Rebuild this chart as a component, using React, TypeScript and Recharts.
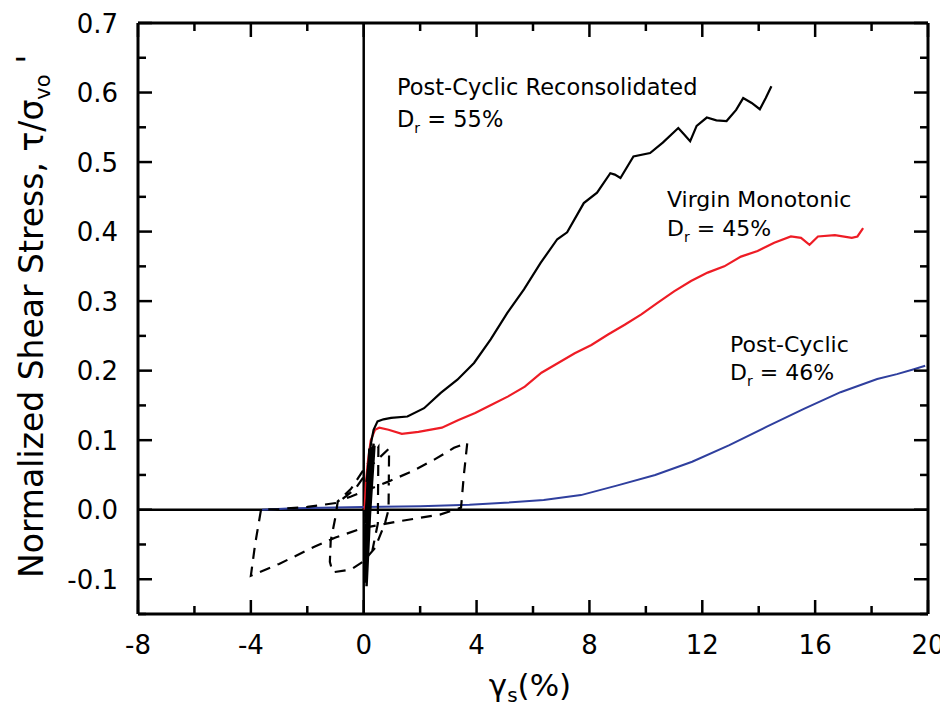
import React from 'react';
import { LineChart, Line, XAxis, YAxis, ReferenceLine } from 'recharts';

// ---- axis ticks ----
const xMajorTicks = [-8, -4, 0, 4, 8, 12, 16, 20];
const xAllTicks = [-8, -6, -4, -2, 0, 2, 4, 6, 8, 10, 12, 14, 16, 18, 20];
const yMajorTicks = [-0.1, 0, 0.1, 0.2, 0.3, 0.4, 0.5, 0.6, 0.7];
const yAllTicks = [-0.15, -0.1, -0.05, 0, 0.05, 0.1, 0.15, 0.2, 0.25, 0.3, 0.35, 0.4, 0.45, 0.5, 0.55, 0.6, 0.65, 0.7];

// ---- Post-Cyclic Reconsolidated, Dr = 55% (black) ----
const reconStrain = [0.1, 0.2, 0.26, 0.35, 0.49, 0.7, 0.97, 1.55, 2.14, 2.73, 3.32, 3.91, 4.5, 5.09, 5.68, 6.27, 6.86, 7.21, 7.8, 8.27, 8.74, 8.9, 9.1, 9.56, 10.15, 10.6, 11.15, 11.35, 11.57, 11.8, 12.16, 12.5, 12.86, 13.2, 13.45, 13.75, 14.04, 14.25, 14.45];
const reconStress = [0.04, 0.075, 0.096, 0.115, 0.127, 0.13, 0.132, 0.134, 0.146, 0.168, 0.187, 0.211, 0.245, 0.283, 0.317, 0.355, 0.389, 0.399, 0.441, 0.456, 0.484, 0.482, 0.477, 0.508, 0.513, 0.528, 0.549, 0.54, 0.53, 0.552, 0.564, 0.56, 0.559, 0.575, 0.592, 0.585, 0.576, 0.592, 0.609];

// ---- cyclic loading near origin (black, solid) ----
const cyclicStrain = [0.05, 0.2, 0.02, 0.25, 0.06, 0.3, 0.08, 0.22, 0.03, 0.28, 0.1, 0.32, 0.05, 0.18, 0.12, 0.35, 0.06, 0.3, 0.1, 0.26, 0.04, 0.2, 0.14, 0.38, 0.08, 0.24, 0.02, 0.16, 0.1, 0.3, 0.06, 0.22, 0.12];
const cyclicStress = [-0.105, 0.06, -0.09, 0.08, -0.07, 0.09, -0.04, 0.05, -0.1, 0.085, -0.06, 0.07, -0.085, 0.03, -0.05, 0.095, -0.02, 0.06, -0.11, 0.075, -0.065, 0.088, -0.03, 0.092, -0.095, 0.04, -0.08, 0.065, -0.045, 0.082, -0.01, 0.07, 0.04];

// ---- Virgin Monotonic, Dr = 45% (red) ----
const virginStrain = [0.03, 0.08, 0.15, 0.25, 0.4, 0.55, 0.88, 1.35, 1.94, 2.77, 3.36, 3.95, 4.53, 5.12, 5.71, 6.3, 6.89, 7.48, 8.07, 8.66, 9.25, 9.84, 10.4, 11.0, 11.6, 12.19, 12.78, 13.37, 13.96, 14.55, 15.14, 15.5, 15.8, 16.1, 16.7, 17.3, 17.5, 17.7];
const virginStress = [0.0, 0.04, 0.07, 0.1, 0.115, 0.118, 0.115, 0.109, 0.112, 0.118, 0.129, 0.139, 0.151, 0.163, 0.177, 0.197, 0.211, 0.225, 0.237, 0.252, 0.266, 0.281, 0.297, 0.314, 0.329, 0.341, 0.35, 0.364, 0.372, 0.384, 0.393, 0.391, 0.381, 0.393, 0.395, 0.391, 0.393, 0.405];

// ---- Post-Cyclic, Dr = 46% (blue) ----
const postStrain = [-3.6, -2.5, -1.0, 0.0, 2.0, 3.75, 5.0, 6.38, 7.7, 9.0, 10.33, 11.64, 12.96, 14.27, 15.6, 16.9, 18.2, 18.9, 19.5, 19.9];
const postStress = [0.0, 0.002, 0.003, 0.004, 0.005, 0.007, 0.01, 0.014, 0.021, 0.035, 0.05, 0.069, 0.093, 0.119, 0.145, 0.169, 0.188, 0.195, 0.202, 0.207];

// ---- cyclic loops (dashed) ----
const loopStrain = [0.3, 0.5, 0.52, 0.2, -0.45, -0.92, -1.0, -1.17, -1.2, -1.1, -0.45, 0.0, 0.4, 0.75, 0.88, 0.9, 0.3, -0.3, -0.92, -2.0, -3.0, -3.64, -3.85, -4.0, -3.0, -1.73, -1.0, 0.0, 1.2, 2.7, 3.45, 3.55, 3.67, 3.2, 2.5, 1.7, 0.85, -0.45, -0.92];
const loopStress = [-0.06, -0.02, 0.09, 0.07, 0.03, 0.012, -0.01, -0.045, -0.075, -0.09, -0.086, -0.074, -0.055, -0.02, 0.0, 0.088, 0.065, 0.03, 0.01, 0.004, 0.001, 0.0, -0.05, -0.095, -0.078, -0.053, -0.04, -0.026, -0.017, -0.007, 0.003, 0.05, 0.096, 0.089, 0.072, 0.055, 0.04, 0.019, 0.012];

const toPoints = (xs: number[], ys: number[]) => xs.map((x, i) => ({ x, y: ys[i] }));

const recon = toPoints(reconStrain, reconStress);
const cyclic = toPoints(cyclicStrain, cyclicStress);
const virgin = toPoints(virginStrain, virginStress);
const post = toPoints(postStrain, postStress);
const loops = toPoints(loopStrain, loopStress);

const FONT = 'DejaVu Sans, Verdana, sans-serif';
const W = 940;
const H = 700;
const M = { top: 15, right: 20, bottom: 93, left: 129 };
const PLOT_W = W - M.left - 1 - M.right; // 790
const PLOT_H = H - M.top - M.bottom - 1; // 591
const MAJOR = 14;
const MINOR = 8;
const TICK_STROKE = 2.5;
const LABEL_SIZE = 26;

const isIn = (list: number[], v: number) => list.some((t) => Math.abs(t - v) < 1e-9);

const XTick = (props: any) => {
  const { x, y, payload } = props;
  const v = payload.value as number;
  const major = isIn(xMajorTicks, v);
  const len = major ? MAJOR : MINOR;
  const top = y - PLOT_H;
  return (
    <g>
      <line x1={x} y1={y} x2={x} y2={y - len} stroke="#000" strokeWidth={TICK_STROKE} />
      <line x1={x} y1={top} x2={x} y2={top + len} stroke="#000" strokeWidth={TICK_STROKE} />
      {major && (
        <text x={x} y={y + 40} textAnchor="middle" fontSize={LABEL_SIZE} fontFamily={FONT} fill="#000">{v}</text>
      )}
    </g>
  );
};

const YTick = (props: any) => {
  const { x, y, payload } = props;
  const v = payload.value as number;
  const major = isIn(yMajorTicks, v);
  const len = major ? MAJOR : MINOR;
  const right = x + PLOT_W;
  return (
    <g>
      <line x1={x} y1={y} x2={x + len} y2={y} stroke="#000" strokeWidth={TICK_STROKE} />
      <line x1={right} y1={y} x2={right - len} y2={y} stroke="#000" strokeWidth={TICK_STROKE} />
      {major && (
        <text x={x - 20} y={y + 9.5} textAnchor="end" fontSize={LABEL_SIZE} fontFamily={FONT} fill="#000">{v.toFixed(1)}</text>
      )}
    </g>
  );
};

export default function App() {
  const axisLine = { stroke: '#000', strokeWidth: 3 };
  return (
    <div style={{ position: 'relative', width: W, height: H, background: '#fff' }}>
      <LineChart width={W} height={H} margin={M} style={{ overflow: 'visible' }}>
        <XAxis xAxisId={0} type="number" dataKey="x" domain={[-8, 20]} ticks={xAllTicks} interval={0}
          allowDataOverflow height={1} tickSize={0} tickMargin={0} axisLine={axisLine} tickLine={false} tick={<XTick />} />
        <YAxis yAxisId={0} type="number" domain={[-0.15, 0.7]} ticks={yAllTicks} interval={0} allowDataOverflow
          width={1} tickSize={0} tickMargin={0} axisLine={axisLine} tickLine={false} tick={<YTick />} />

        <ReferenceLine y={0.7} stroke="#000" strokeWidth={3} />
        <ReferenceLine x={20} stroke="#000" strokeWidth={3} />
        <ReferenceLine x={0} stroke="#000" strokeWidth={2.5} />
        <ReferenceLine y={0} stroke="#000" strokeWidth={2.5} />

        <Line data={post} dataKey="y" stroke="#2f3f9e" strokeWidth={2} dot={false} isAnimationActive={false} type="linear" />
        <Line data={loops} dataKey="y" stroke="#000" strokeWidth={2.2} strokeDasharray="11 8" dot={false} isAnimationActive={false} type="linear" />
        <Line data={virgin} dataKey="y" stroke="#ee1c25" strokeWidth={2.2} dot={false} isAnimationActive={false} type="linear" />
        <Line data={cyclic} dataKey="y" stroke="#000" strokeWidth={2.5} dot={false} isAnimationActive={false} type="linear" />
        <Line data={recon} dataKey="y" stroke="#000" strokeWidth={2.2} dot={false} isAnimationActive={false} type="linear" />
      </LineChart>

      <svg width={W} height={H} style={{ position: 'absolute', left: 0, top: 0, pointerEvents: 'none', overflow: 'visible' }}
        fontFamily={FONT} fill="#000">
        <text x={389} y={87} fontSize={22.5}>Post-Cyclic Reconsolidated</text>
        <text x={389} y={119} fontSize={22.5}>D<tspan fontSize={14} dy={6}>r</tspan><tspan dy={-6}> = 55%</tspan></text>
        <text x={659} y={199} fontSize={22}>Virgin Monotonic</text>
        <text x={659} y={228} fontSize={22}>D<tspan fontSize={14} dy={6}>r</tspan><tspan dy={-6}> = 45%</tspan></text>
        <text x={722} y={344} fontSize={22}>Post-Cyclic</text>
        <text x={722} y={372} fontSize={22}>D<tspan fontSize={14} dy={6}>r</tspan><tspan dy={-6}> = 46%</tspan></text>

        <text transform="translate(35, 570) rotate(-90)" fontSize={33}>
          Normalized Shear Stress, τ/σ<tspan fontSize={21} dy={7}>vo</tspan><tspan dy={-9}> '</tspan>
        </text>
        <text x={522} y={688} fontSize={31} textAnchor="middle">
          γ<tspan fontSize={20} dy={6}>s</tspan><tspan dy={-6}>(%)</tspan>
        </text>
      </svg>
    </div>
  );
}
